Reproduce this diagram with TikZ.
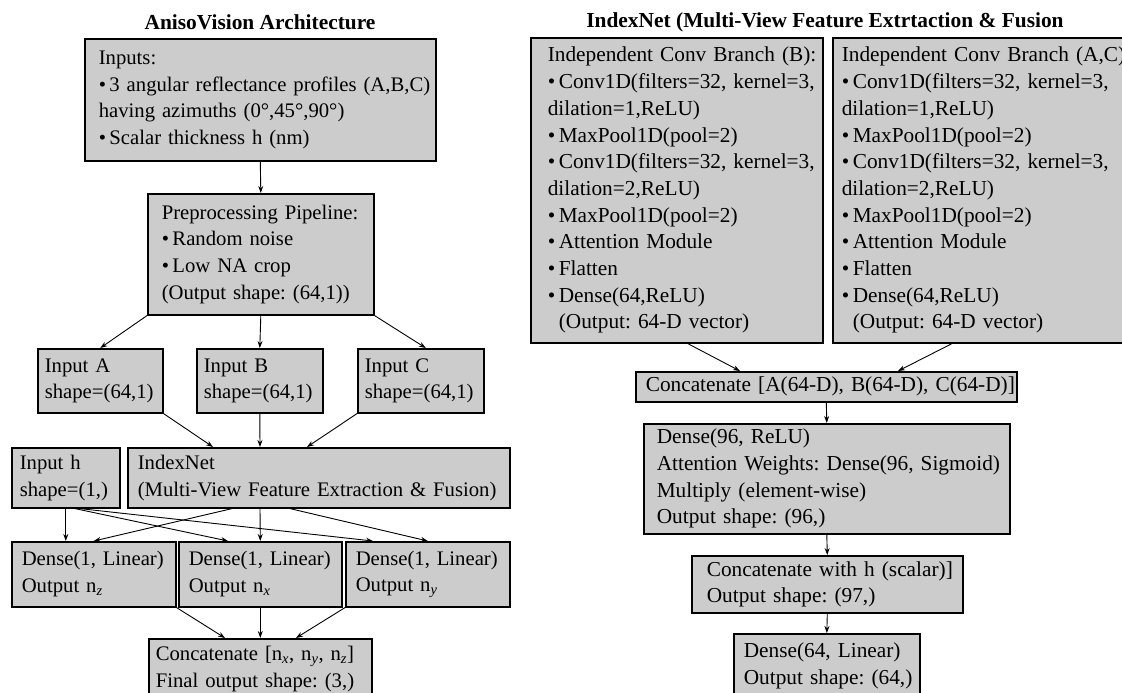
\documentclass[tikz,border=0pt]{standalone}
\usepackage{fontspec}
\setmainfont{Liberation Serif}
\usetikzlibrary{arrows.meta}
\definecolor{boxgray}{RGB}{204,204,204}
\frenchspacing
\tikzset{
  blk/.style={draw, line width=1.6pt, fill=boxgray, anchor=north west, align=left,
    inner ysep=0pt, font=\fontsize{20.7}{26.7}\selectfont},
  nblk/.style={blk, font=\fontsize{21.3}{26.7}\selectfont},
  ttl/.style={font=\fontsize{21.4}{25}\selectfont\bfseries},
  arr/.style={-{Stealth[length=7pt,width=5pt]}, line width=0.9pt},
}
\newcommand\bl{\textbullet\,}
\begin{document}
\begin{tikzpicture}[x=1pt,y=-1pt]
\useasboundingbox (0,0) rectangle (1122,693);
% left: AnisoVision
\node[ttl] (t1) at (260,22) {AnisoVision Architecture};
\node[blk, inner xsep=14pt, text width=323pt, minimum height=122pt] (inp) at (84,38)
  {Inputs:\\\mbox{\bl 3 angular reflectance profiles (A,B,C)}\\having azimuths (0\textdegree,45\textdegree,90\textdegree)\\\bl Scalar thickness h (nm)};
\node[blk, inner xsep=14pt, text width=198pt, minimum height=121pt] (pre) at (147,193)
  {\mbox{Preprocessing Pipeline:}\\\bl Random noise\\\bl Low NA crop\\\mbox{(Output shape: (64,1))}};
\node[blk, inner xsep=7pt, text width=111pt, minimum height=64pt] (inA) at (37,348) {Input A\\\mbox{shape=(64,1)}};
\node[blk, inner xsep=7pt, text width=112pt, minimum height=64pt] (inB) at (196,348) {Input B\\\mbox{shape=(64,1)}};
\node[blk, inner xsep=7pt, text width=112pt, minimum height=64pt] (inC) at (357,348) {Input C\\\mbox{shape=(64,1)}};
\node[blk, inner xsep=8pt, text width=92pt, minimum height=60pt] (inh) at (11,447) {Input h\\shape=(1,)};
\node[blk, inner xsep=10pt, text width=362pt, minimum height=60pt] (idx) at (127,447)
  {IndexNet\\\mbox{(Multi-View Feature Extraction \& Fusion)}};
\node[blk, inner xsep=10pt, text width=144pt, minimum height=65pt] (dz) at (11,541) {\mbox{Dense(1, Linear)}\\Output n\textsubscript{\textit{z}}};
\node[blk, inner xsep=10pt, text width=143pt, minimum height=65pt] (dx) at (178,541) {\mbox{Dense(1, Linear)}\\Output n\textsubscript{\textit{x}}};
\node[blk, inner xsep=10pt, text width=144pt, minimum height=65pt] (dy) at (345,541) {\mbox{Dense(1, Linear)}\\Output n\textsubscript{\textit{y}}};
\node[blk, inner xsep=7pt, text width=209pt, minimum height=60pt] (fin) at (148,638)
  {\mbox{Concatenate [n\textsubscript{\textit{x}}, n\textsubscript{\textit{y}}, n\textsubscript{\textit{z}}]}\\\mbox{Final output shape: (3,)}};

\draw[arr] (inp.south) -- (pre.north);
\draw[arr] (pre.south west) -- (inA.north);
\draw[arr] (pre.south) -- (inB.north);
\draw[arr] (pre.south east) -- ([xshift=5pt]inC.north);
\draw[arr] (inA.south east) -- ([xshift=86pt]idx.north west);
\draw[arr] (inB.south) -- ([xshift=133pt]idx.north west);
\draw[arr] (inC.south west) -- ([xshift=180pt]idx.north west);
\draw[arr] (inh.south) -- (inh.south |- dz.north);
\draw[arr] ([xshift=64pt]inh.south west) -- ([xshift=50pt]dx.north west);
\draw[arr] ([xshift=69pt]inh.south west) -- ([xshift=28pt]dy.north west);
\draw[arr] ([xshift=105pt]idx.south west) -- (dz.north);
\draw[arr] ([xshift=133pt]idx.south west) -- (dx.north);
\draw[arr] ([xshift=163pt]idx.south west) -- (dy.north);
\draw[arr] (dz.south east) -- ([xshift=77pt]fin.north west);
\draw[arr] (dx.south) -- (fin.north);
\draw[arr] (dy.south west) -- ([xshift=148pt]fin.north west);

% right: IndexNet detail
\node[ttl] (t2) at (825,22) {IndexNet (Multi-View Feature Extrtaction \& Fusion};
\node[nblk, inner xsep=17pt, text width=258pt, minimum height=305pt] (bB) at (530,37)
  {\mbox{Independent Conv Branch (B):}\\\mbox{\bl Conv1D(filters=32, kernel=3,}\\dilation=1,ReLU)\\\bl MaxPool1D(pool=2)\\\mbox{\bl Conv1D(filters=32, kernel=3,}\\dilation=2,ReLU)\\\bl MaxPool1D(pool=2)\\\bl Attention Module\\\bl Flatten\\\bl Dense(64,ReLU)\\\phantom{\bl}(Output: 64-D vector)};
\node[nblk, inner xsep=9pt, text width=330pt, minimum height=305pt] (bAC) at (832,37)
  {\mbox{Independent Conv Branch (A,C):}\\\bl Conv1D(filters=32, kernel=3,\\dilation=1,ReLU)\\\bl MaxPool1D(pool=2)\\\bl Conv1D(filters=32, kernel=3,\\dilation=2,ReLU)\\\bl MaxPool1D(pool=2)\\\bl Attention Module\\\bl Flatten\\\bl Dense(64,ReLU)\\\phantom{\bl}(Output: 64-D vector)};
\node[nblk, inner xsep=10pt, text width=361pt, minimum height=30pt] (c3) at (635,371)
  {\mbox{Concatenate [A(64-D), B(64-D), C(64-D)]}};
\node[nblk, inner xsep=13pt, text width=340pt, minimum height=110pt] (d96) at (643,423)
  {Dense(96, ReLU)\\\mbox{Attention Weights: Dense(96, Sigmoid)}\\Multiply (element-wise)\\Output shape: (96,)};
\node[nblk, inner xsep=15pt, text width=241pt, minimum height=57pt] (ch) at (691,555)
  {\mbox{Concatenate with h (scalar)]}\\Output shape: (97,)};
\node[nblk, inner xsep=10pt, text width=166pt, minimum height=64pt] (d64) at (733,633)
  {\mbox{Dense(64, Linear)}\\\mbox{Output shape: (64,)}};

\draw[arr] ([xshift=11pt]bB.south) -- ([xshift=105pt]c3.north west);
\draw[arr] ([xshift=120pt]bAC.south west) -- ([xshift=263pt]c3.north west);
\draw[arr] (c3.south) -- (d96.north);
\draw[arr] (d96.south) -- (ch.north);
\draw[arr] (ch.south) -- (d64.north);
\end{tikzpicture}
\end{document}
